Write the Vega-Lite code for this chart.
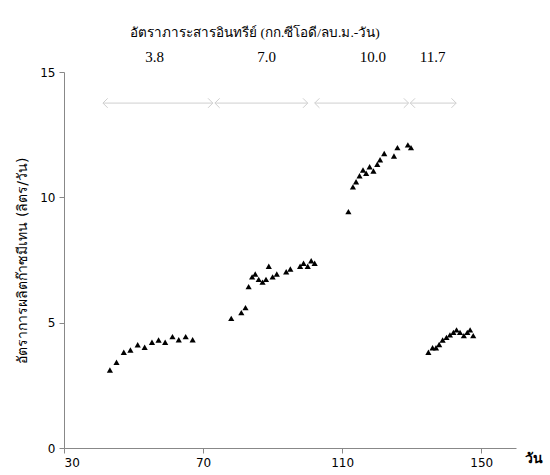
{
  "$schema": "https://vega.github.io/schema/vega-lite/v6.json",
  "autosize": "none",
  "width": 452,
  "height": 376,
  "padding": {"left": 64, "top": 72, "right": 34, "bottom": 27},
  "background": "white",
  "config": {"view": {"stroke": null}},
  "title": {
    "text": "อัตราภาระสารอินทรีย์ (กก.ซีโอดี/ลบ.ม.-วัน)",
    "font": "Liberation Serif",
    "fontSize": 13.5,
    "fontWeight": "normal",
    "color": "#000",
    "anchor": "middle",
    "dx": -35,
    "offset": 10
  },
  "datasets": {
    "pts": [
      {"day": 43.2, "rate": 3.11}, {"day": 45.1, "rate": 3.42}, {"day": 47.2, "rate": 3.82}, {"day": 49.1, "rate": 3.91},
      {"day": 51.2, "rate": 4.12}, {"day": 53.2, "rate": 4.02}, {"day": 55.3, "rate": 4.22}, {"day": 57.2, "rate": 4.31},
      {"day": 59.1, "rate": 4.22}, {"day": 61.2, "rate": 4.44}, {"day": 63.0, "rate": 4.32}, {"day": 65.0, "rate": 4.44},
      {"day": 67.0, "rate": 4.32},
      {"day": 78.1, "rate": 5.17}, {"day": 81.0, "rate": 5.40}, {"day": 82.2, "rate": 5.60}, {"day": 83.1, "rate": 6.44},
      {"day": 84.1, "rate": 6.83}, {"day": 85.0, "rate": 6.94}, {"day": 86.0, "rate": 6.73}, {"day": 87.1, "rate": 6.62},
      {"day": 88.1, "rate": 6.73}, {"day": 88.9, "rate": 7.25}, {"day": 90.0, "rate": 6.83}, {"day": 91.2, "rate": 6.94},
      {"day": 93.9, "rate": 7.03}, {"day": 95.1, "rate": 7.14}, {"day": 97.9, "rate": 7.25}, {"day": 98.9, "rate": 7.37},
      {"day": 100.1, "rate": 7.25}, {"day": 101.1, "rate": 7.47}, {"day": 102.1, "rate": 7.37},
      {"day": 111.8, "rate": 9.43}, {"day": 113.1, "rate": 10.42}, {"day": 114.0, "rate": 10.62}, {"day": 115.0, "rate": 10.86},
      {"day": 116.0, "rate": 11.09}, {"day": 116.9, "rate": 10.96}, {"day": 117.9, "rate": 11.22}, {"day": 119.0, "rate": 11.05},
      {"day": 120.1, "rate": 11.32}, {"day": 120.9, "rate": 11.50}, {"day": 122.1, "rate": 11.75}, {"day": 124.9, "rate": 11.65},
      {"day": 125.9, "rate": 11.98}, {"day": 128.9, "rate": 12.09}, {"day": 129.8, "rate": 11.98},
      {"day": 134.8, "rate": 3.82}, {"day": 136.0, "rate": 4.00}, {"day": 137.0, "rate": 4.00}, {"day": 137.9, "rate": 4.13},
      {"day": 138.9, "rate": 4.31}, {"day": 140.0, "rate": 4.41}, {"day": 141.0, "rate": 4.51}, {"day": 142.0, "rate": 4.61},
      {"day": 142.9, "rate": 4.71}, {"day": 143.9, "rate": 4.61}, {"day": 145.0, "rate": 4.48}, {"day": 146.0, "rate": 4.61},
      {"day": 146.8, "rate": 4.71}, {"day": 147.7, "rate": 4.48}
    ],
    "arrows": [
      {"start": 41.2, "end": 72.8, "y": 13.76, "mid": 56.1, "ty": 15.6, "label": "3.8"},
      {"start": 73.4, "end": 100.1, "y": 13.76, "mid": 88.3, "ty": 15.6, "label": "7.0"},
      {"start": 102.1, "end": 129.1, "y": 13.76, "mid": 118.8, "ty": 15.6, "label": "10.0"},
      {"start": 129.6, "end": 142.8, "y": 13.76, "mid": 136.0, "ty": 15.6, "label": "11.7"}
    ]
  },
  "layer": [
    {
      "data": {"name": "arrows"},
      "mark": {"type": "rule", "color": "#cfcfcf", "strokeWidth": 1},
      "encoding": {
        "x": {"field": "start", "type": "quantitative", "scale": {"domain": [30, 160], "nice": false, "zero": false}},
        "x2": {"field": "end"},
        "y": {"field": "y", "type": "quantitative"}
      }
    },
    {
      "data": {"name": "arrows"},
      "mark": {"type": "point", "shape": "M1,-1L0,0L1,1", "filled": false, "stroke": "#cfcfcf", "strokeWidth": 1, "size": 90, "opacity": 1},
      "encoding": {
        "x": {"field": "start", "type": "quantitative"},
        "y": {"field": "y", "type": "quantitative"}
      }
    },
    {
      "data": {"name": "arrows"},
      "mark": {"type": "point", "shape": "M-1,-1L0,0L-1,1", "filled": false, "stroke": "#cfcfcf", "strokeWidth": 1, "size": 90, "opacity": 1},
      "encoding": {
        "x": {"field": "end", "type": "quantitative"},
        "y": {"field": "y", "type": "quantitative"}
      }
    },
    {
      "data": {"name": "arrows"},
      "mark": {"type": "text", "font": "Liberation Serif", "fontSize": 15, "color": "#000", "clip": false},
      "encoding": {
        "x": {"field": "mid", "type": "quantitative"},
        "y": {"field": "ty", "type": "quantitative"},
        "text": {"field": "label"}
      }
    },
    {
      "data": {"name": "pts"},
      "mark": {"type": "point", "shape": "triangle-up", "filled": true, "color": "#000", "size": 38, "opacity": 1},
      "encoding": {
        "x": {
          "field": "day", "type": "quantitative",
          "scale": {"domain": [30, 160], "nice": false, "zero": false},
          "axis": {
            "values": [30, 70, 110, 150],
            "grid": false,
            "domainColor": "#888", "tickColor": "#888", "tickSize": 5,
            "labelFont": "DejaVu Sans", "labelFontSize": 12, "labelColor": "#000", "labelPadding": 4,
            "title": "วัน", "titleFont": "DejaVu Sans", "titleFontSize": 14, "titleFontWeight": "bold", "titleColor": "#000",
            "titleAnchor": "start", "titleAlign": "left", "titleX": 460, "titleY": 10, "titleBaseline": "middle"
          }
        },
        "y": {
          "field": "rate", "type": "quantitative",
          "scale": {"domain": [0, 15], "nice": false},
          "axis": {
            "values": [0, 5, 10, 15],
            "grid": false,
            "domainColor": "#888", "tickColor": "#888", "tickSize": 5,
            "labelFont": "DejaVu Sans", "labelFontSize": 12, "labelColor": "#000", "labelPadding": 4,
            "title": "อัตราการผลิตก๊าซมีเทน (ลิตร/วัน)", "titleFont": "DejaVu Sans", "titleFontSize": 14, "titleFontWeight": "normal", "titleColor": "#000",
            "titlePadding": 10
          }
        }
      }
    }
  ]
}
